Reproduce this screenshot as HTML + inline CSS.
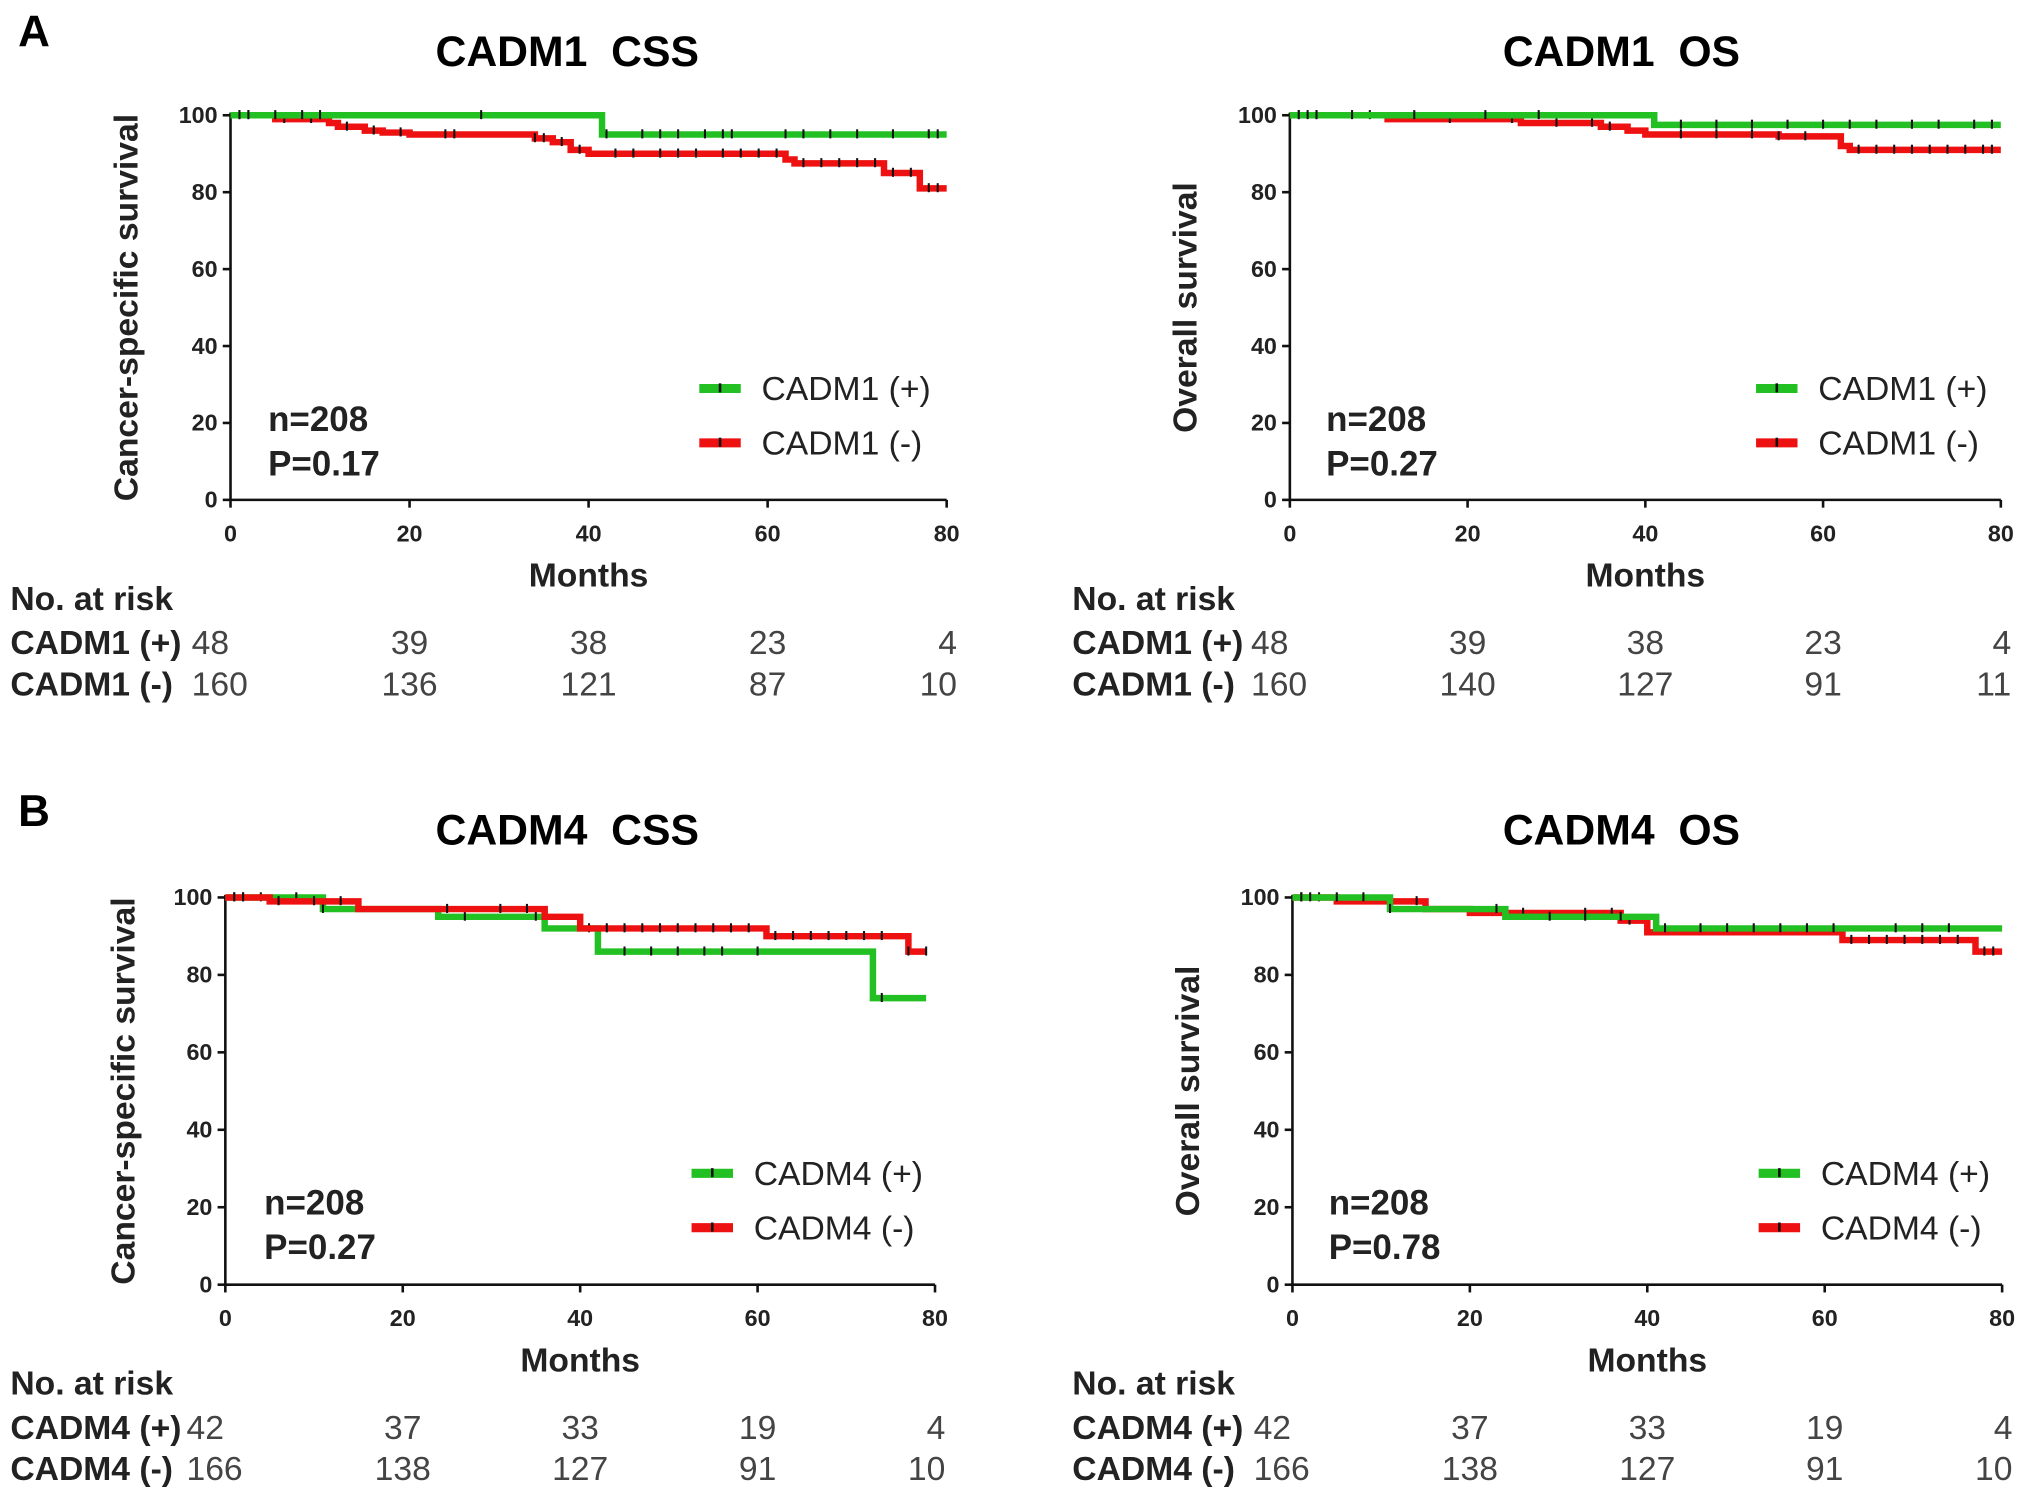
<!DOCTYPE html>
<html><head><meta charset="utf-8">
<style>
html,body{margin:0;padding:0;background:#fff;}
svg{display:block;font-family:"Liberation Sans",Arial,sans-serif;}
.pre{white-space:pre;}
</style></head>
<body>
<svg id="fig" width="2031" height="1499" viewBox="0 0 1568.3 1157.5" preserveAspectRatio="none" xmlns="http://www.w3.org/2000/svg">
<text x="14" y="36" font-size="34" font-weight="bold">A</text>
<text x="14" y="638" font-size="34" font-weight="bold">B</text>
</svg>
<script>
// ---- data ----
const xTicks = [0, 20, 40, 60, 80];
const yTicks = [0, 20, 40, 60, 80, 100];
// Panel A: CADM1 CSS
const a1PosTimes = [0, 41.5];
const a1PosSurv  = [100, 95];
const a1NegTimes = [0, 5, 11, 12, 15, 17, 20, 34, 36, 38, 40, 62, 63, 73, 77];
const a1NegSurv  = [100, 99, 98, 97, 96, 95.5, 95, 94, 93, 91, 90, 88.5, 87.5, 85, 81];
const a1PosCens = [1, 2, 5, 8, 10, 28, 42, 46, 48, 50, 53, 55, 56, 62, 64, 67, 70, 74, 78, 79];
const a1NegCens = [1, 2, 6, 9, 13, 16, 19, 24, 25, 34, 35, 37, 39, 43, 45, 48, 50, 52, 55, 57, 59, 61, 64, 66, 68, 70, 72, 74, 76, 78, 79];
// Panel A: CADM1 OS
const a2PosTimes = [0, 41];
const a2PosSurv  = [100, 97.5];
const a2NegTimes = [0, 11, 26, 35, 38, 40, 55, 62, 63];
const a2NegSurv  = [100, 99, 98, 97, 96, 95, 94.5, 92, 91];
const a2PosCens = [1, 2, 3, 7, 14, 22, 28, 44, 48, 52, 56, 60, 63, 66, 70, 73, 77, 79];
const a2NegCens = [1, 3, 9, 18, 25, 30, 34, 36, 44, 48, 52, 55, 58, 64, 66, 68, 70, 72, 74, 76, 78, 79];
// Panel B: CADM4 CSS
const b1PosTimes = [0, 11, 24, 36, 42, 73];
const b1PosSurv  = [100, 97, 95, 92, 86, 74];
const b1NegTimes = [0, 5, 15, 36, 40, 61, 77];
const b1NegSurv  = [100, 99, 97, 95, 92, 90, 86];
const b1PosCens = [1, 2, 4, 8, 11, 27, 35, 41, 45, 48, 51, 54, 56, 60, 74];
const b1NegCens = [1, 2, 6, 10, 13, 25, 31, 34, 43, 45, 47, 49, 51, 53, 55, 57, 59, 62, 64, 66, 68, 70, 72, 74, 77, 79];
// Panel B: CADM4 OS
const b2PosTimes = [0, 11, 24, 41];
const b2PosSurv  = [100, 97, 95, 92];
const b2NegTimes = [0, 5, 15, 20, 37, 40, 62, 77];
const b2NegSurv  = [100, 99, 97, 96, 94, 91, 89, 86];
const b2PosCens = [1, 2, 5, 8, 11, 23, 29, 33, 37, 42, 46, 49, 52, 55, 58, 61, 68, 71, 74];
const b2NegCens = [1, 3, 14, 26, 33, 36, 38, 63, 65, 67, 69, 71, 73, 75, 78, 79];
// risk tables
const riskA1Pos = [48, 39, 38, 23, 4];
const riskA1Neg = [160, 136, 121, 87, 10];
const riskA2Pos = [48, 39, 38, 23, 4];
const riskA2Neg = [160, 140, 127, 91, 11];
const riskB1Pos = [42, 37, 33, 19, 4];
const riskB1Neg = [166, 138, 127, 91, 10];
const riskB2Pos = [42, 37, 33, 19, 4];
const riskB2Neg = [166, 138, 127, 91, 10];

const NS = "http://www.w3.org/2000/svg";
const svg = document.getElementById('fig');
function mk(tag, attrs, parent, text) {
  const e = document.createElementNS(NS, tag);
  for (const k in attrs) e.setAttribute(k, attrs[k]);
  if (text !== undefined) e.textContent = text;
  (parent || svg).appendChild(e);
  return e;
}
function survAt(times, surv, t) {
  let s = surv[0];
  for (let i = 0; i < times.length; i++) if (times[i] <= t) s = surv[i];
  return s;
}
function panel(p) {
  const g = mk('g', {});
  
  
  const xs = t => p.x0 + (p.x1 - p.x0) * t / 80;
  const ys = v => p.y0 + (p.y1 - p.y0) * v / 100;
  const title = mk('text', {x: p.tx, y: p.ty, 'font-size': 33, 'font-weight': 'bold', 'text-anchor': 'middle', 'class': 'pre'}, g, p.title);
  
  
  const yAxis = mk('line', {x1: p.x0, y1: ys(100) - 2, x2: p.x0, y2: p.y0, stroke: '#111', 'stroke-width': 2}, g);
  
  
  const xAxis = mk('line', {x1: p.x0, y1: p.y0, x2: p.x1, y2: p.y0, stroke: '#111', 'stroke-width': 2}, g);
  
  
  yTicks.forEach(v => {
    mk('line', {x1: p.x0 - 6, y1: ys(v), x2: p.x0, y2: ys(v), stroke: '#111', 'stroke-width': 2}, g);
    const t = mk('text', {x: p.x0 - 10, y: ys(v) + 6, 'font-size': 18, 'font-weight': 'bold', 'text-anchor': 'end', fill: '#222'}, g, String(v));
    
    
  });
  xTicks.forEach(v => {
    mk('line', {x1: xs(v), y1: p.y0, x2: xs(v), y2: p.y0 + 6, stroke: '#111', 'stroke-width': 2}, g);
    const t = mk('text', {x: xs(v), y: p.y0 + 32, 'font-size': 18, 'font-weight': 'bold', 'text-anchor': 'middle', fill: '#222'}, g, String(v));
    
    
  });
  const xl = mk('text', {x: (p.x0 + p.x1) / 2, y: p.y0 + 67, 'font-size': 26, 'font-weight': 'bold', 'text-anchor': 'middle', fill: '#222'}, g, 'Months');
  
  
  const yl = mk('text', {x: 0, y: 0, 'font-size': 26, 'font-weight': 'bold', 'text-anchor': 'middle', fill: '#222', transform: `translate(${p.ylx},${(ys(100) + p.y0) / 2}) rotate(-90)`}, g, p.ylabel);
  
  
  const series = [
    {times: p.negT, surv: p.negS, cens: p.negC, color: '#ee1111', name: 'curve-negative'},
    {times: p.posT, surv: p.posS, cens: p.posC, color: '#22c022', name: 'curve-positive'}
  ];
  if (p.negFirst === false) series.reverse();
  series.forEach(s => {
    let d = `M${xs(s.times[0])},${ys(s.surv[0])}`;
    for (let i = 1; i < s.times.length; i++) {
      d += ` H${xs(s.times[i])} V${ys(s.surv[i])}`;
    }
    d += ` H${xs(p.endT)}`;
    const path = mk('path', {d: d, fill: 'none', stroke: s.color, 'stroke-width': 5}, g);
    
    
    s.cens.forEach(t => {
      const y = ys(survAt(s.times, s.surv, t));
      const c = mk('line', {x1: xs(t), y1: y - 4, x2: xs(t), y2: y + 3, stroke: '#111', 'stroke-width': 1.6}, g);
      
      
    });
  });
  const n = mk('text', {x: p.sx, y: p.sy, 'font-size': 27, 'font-weight': 'bold', fill: '#222'}, g, 'n=208');
  
  
  const pv = mk('text', {x: p.sx, y: p.sy + 34, 'font-size': 27, 'font-weight': 'bold', fill: '#222'}, g, p.pval);
  
  
  [[p.posLabel, '#22c022', 0], [p.negLabel, '#ee1111', 42]].forEach(([lab, col, dy]) => {
    const lg = mk('g', {}, g);
    
    
    mk('line', {x1: p.lx, y1: p.ly + dy, x2: p.lx + 32, y2: p.ly + dy, stroke: col, 'stroke-width': 7}, lg);
    mk('line', {x1: p.lx + 16, y1: p.ly + dy - 4, x2: p.lx + 16, y2: p.ly + dy + 3, stroke: '#111', 'stroke-width': 2}, lg);
    mk('text', {x: p.lx + 48, y: p.ly + dy + 9, 'font-size': 26, fill: '#222'}, lg, lab);
  });
  const rt = mk('g', {}, g);
  
  
  mk('text', {x: p.rx, y: p.ry, 'font-size': 26, fill: '#222', 'font-weight': 'bold'}, rt, 'No. at risk');
  [[p.posLabel, p.riskPos, 34], [p.negLabel, p.riskNeg, 66]].forEach(([lab, vals, dy]) => {
    mk('text', {x: p.rx, y: p.ry + dy, 'font-size': 26, fill: '#222', 'font-weight': 'bold'}, rt, lab);
    vals.forEach((v, i) => {
      const anchor = i === 0 ? 'start' : (i === 4 ? 'end' : 'middle');
      const x = i === 0 ? p.x0 - 30 : (i === 4 ? xs(80) + 8 : xs(xTicks[i]));
      const t = mk('text', {x: x, y: p.ry + dy, 'font-size': 26, fill: '#444', 'text-anchor': anchor}, rt, String(v));
      
      
    });
  });
}
panel({name: 'cadm1-css-chart', title: 'CADM1  CSS', ylabel: 'Cancer-specific survival', x0: 178, x1: 731, y0: 386, y1: 89, tx: 438, ty: 51, ylx: 106, endT: 80,
  posT: a1PosTimes, posS: a1PosSurv, posC: a1PosCens, negT: a1NegTimes, negS: a1NegSurv, negC: a1NegCens,
  sx: 207, sy: 333, pval: 'P=0.17', lx: 540, ly: 300, posLabel: 'CADM1 (+)', negLabel: 'CADM1 (-)',
  rx: 8, ry: 471, riskPos: riskA1Pos, riskNeg: riskA1Neg});
panel({name: 'cadm1-os-chart', title: 'CADM1  OS', ylabel: 'Overall survival', x0: 996, x1: 1545, y0: 386, y1: 89, tx: 1252, ty: 51, ylx: 924, endT: 80,
  posT: a2PosTimes, posS: a2PosSurv, posC: a2PosCens, negT: a2NegTimes, negS: a2NegSurv, negC: a2NegCens,
  sx: 1024, sy: 333, pval: 'P=0.27', lx: 1356, ly: 300, posLabel: 'CADM1 (+)', negLabel: 'CADM1 (-)',
  rx: 828, ry: 471, riskPos: riskA2Pos, riskNeg: riskA2Neg});
panel({name: 'cadm4-css-chart', title: 'CADM4  CSS', ylabel: 'Cancer-specific survival', x0: 174, x1: 722, y0: 992, y1: 693, tx: 438, ty: 652, ylx: 104, endT: 79,
  posT: b1PosTimes, posS: b1PosSurv, posC: b1PosCens, negT: b1NegTimes, negS: b1NegSurv, negC: b1NegCens, negFirst: false,
  sx: 204, sy: 938, pval: 'P=0.27', lx: 534, ly: 906, posLabel: 'CADM4 (+)', negLabel: 'CADM4 (-)',
  rx: 8, ry: 1077, riskPos: riskB1Pos, riskNeg: riskB1Neg});
panel({name: 'cadm4-os-chart', title: 'CADM4  OS', ylabel: 'Overall survival', x0: 998, x1: 1546, y0: 992, y1: 693, tx: 1252, ty: 652, ylx: 926, endT: 80,
  posT: b2PosTimes, posS: b2PosSurv, posC: b2PosCens, negT: b2NegTimes, negS: b2NegSurv, negC: b2NegCens,
  sx: 1026, sy: 938, pval: 'P=0.78', lx: 1358, ly: 906, posLabel: 'CADM4 (+)', negLabel: 'CADM4 (-)',
  rx: 828, ry: 1077, riskPos: riskB2Pos, riskNeg: riskB2Neg});
</script>
</body></html>
